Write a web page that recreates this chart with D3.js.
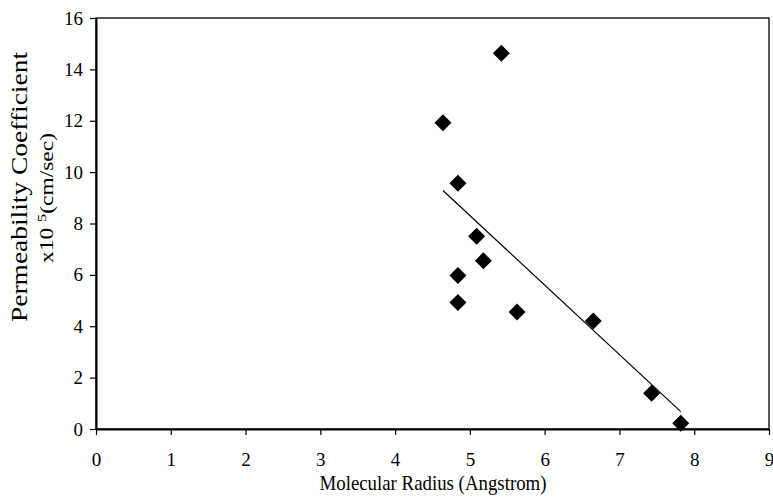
<!DOCTYPE html>
<html>
<head>
<meta charset="utf-8">
<script src="https://cdn.jsdelivr.net/npm/d3@7"></script>
<style>
  body { margin: 0; background: #fff; }
  svg { display: block; font-family: "Liberation Serif", "Times New Roman", serif; }
</style>
</head>
<body>
<div id="chart"></div>
<script>
// Molecular radius (Angstrom) vs permeability coefficient (x10^5 cm/sec)
const radius = [5.42, 4.64, 4.84, 5.09, 5.18, 4.84, 4.84, 5.63, 6.65, 7.43, 7.82];
const permeability = [14.63, 11.92, 9.57, 7.5, 6.55, 5.98, 4.92, 4.55, 4.2, 1.39, 0.22];
const xTicks = [0, 1, 2, 3, 4, 5, 6, 7, 8, 9];
const yTicks = [0, 2, 4, 6, 8, 10, 12, 14, 16];

const width = 773, height = 499;
const margin = { top: 18, right: 4, bottom: 70, left: 96 };

const svg = d3.select('#chart').append('svg')
    .attr('width', width)
    .attr('height', height);

const x = d3.scaleLinear().domain([0, 9]).range([margin.left, width - margin.right]);
const y = d3.scaleLinear().domain([0, 16]).range([height - margin.bottom, margin.top]);

const points = radius.map((r, i) => ({ x: r, y: permeability[i] }));

// Plot frame (top/right border)
svg.append('rect')
    .attr('x', x(0))
    .attr('y', y(16))
    .attr('width', x(9) - x(0))
    .attr('height', y(0) - y(16))
    .attr('fill', 'none')
    .attr('stroke', '#000')
    .attr('stroke-width', 1.3);

// Axes
const xAxisG = svg.append('g')
    .attr('transform', `translate(0,${y(0)})`)
    .call(d3.axisBottom(x).tickValues(xTicks).tickSize(6).tickPadding(18).tickSizeOuter(0));

const yAxisG = svg.append('g')
    .attr('transform', `translate(${x(0)},0)`)
    .call(d3.axisLeft(y).tickValues(yTicks).tickSize(6).tickPadding(7).tickSizeOuter(0));

[xAxisG, yAxisG].forEach(g => {
    g.select('.domain').attr('stroke', '#000').attr('stroke-width', 2);
    g.selectAll('.tick line').attr('stroke', '#000').attr('stroke-width', 1.2);
    g.selectAll('.tick text')
        .attr('fill', '#000')
        .style('font-family', '"Liberation Serif", serif')
        .style('font-size', '19px');
});

// Linear trend line (least squares over the data)
const mx = d3.mean(points, d => d.x);
const my = d3.mean(points, d => d.y);
const slope = d3.sum(points, d => (d.x - mx) * (d.y - my)) / d3.sum(points, d => (d.x - mx) ** 2);
const intercept = my - slope * mx;
const [xmin, xmax] = d3.extent(points, d => d.x);

svg.append('line')
    .attr('x1', x(xmin))
    .attr('y1', y(intercept + slope * xmin))
    .attr('x2', x(xmax))
    .attr('y2', y(intercept + slope * xmax))
    .attr('stroke', '#000')
    .attr('stroke-width', 1.2);

// Diamond markers
svg.selectAll('.pt').data(points).enter().append('path')
    .attr('class', 'pt')
    .attr('transform', d => `translate(${x(d.x)},${y(d.y)})`)
    .attr('d', 'M0,-8.5L8.5,0L0,8.5L-8.5,0Z')
    .attr('fill', '#000');

// Axis titles
svg.append('text')
    .attr('x', 433)
    .attr('y', 490)
    .attr('text-anchor', 'middle')
    .attr('textLength', 227)
    .attr('lengthAdjust', 'spacingAndGlyphs')
    .style('font-size', '21px')
    .text('Molecular Radius (Angstrom)');

svg.append('text')
    .attr('transform', 'translate(27,187) rotate(-90)')
    .attr('text-anchor', 'middle')
    .attr('textLength', 270)
    .attr('lengthAdjust', 'spacingAndGlyphs')
    .style('font-size', '24px')
    .text('Permeability Coefficient');

const sub = svg.append('text')
    .attr('transform', 'translate(53,198) rotate(-90)')
    .attr('text-anchor', 'middle')
    .attr('textLength', 130)
    .attr('lengthAdjust', 'spacingAndGlyphs')
    .style('font-size', '19px');
sub.append('tspan').text('x10 ');
sub.append('tspan').attr('dy', -7).style('font-size', '13px').text('5');
sub.append('tspan').attr('dy', 7).text('(cm/sec)');
</script>
</body>
</html>
